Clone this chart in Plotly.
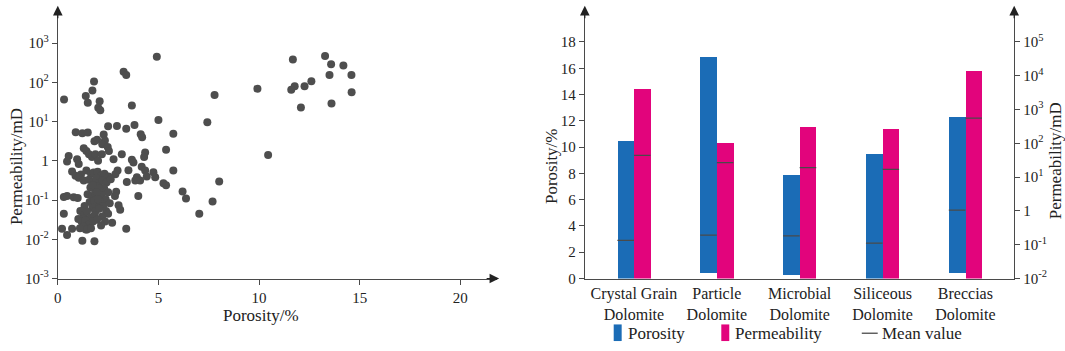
import plotly.graph_objects as go

# ---------------- Left panel: porosity vs permeability scatter ----------------
porosity_pct = [
    4.92, 3.27, 3.40, 1.80, 1.72, 1.39, 1.49, 2.08, 2.01, 2.11, 0.31, 3.68, 5.00, 9.92, 7.79, 7.43,
    11.68, 13.28, 13.58, 14.19, 13.50, 14.59, 12.60, 12.26, 11.77, 11.60, 12.08, 13.60, 14.60, 10.45,
    2.50, 2.94, 3.40, 3.81, 4.12, 4.19, 5.74, 0.89, 1.22, 1.49, 2.28, 2.34, 1.82, 1.95,
    2.21, 2.48, 2.54, 1.29, 1.42, 1.55, 5.38, 4.34, 4.29, 3.18, 3.68, 3.76, 2.77, 0.54, 0.46,
    0.96, 1.04, 1.70, 1.87, 2.00, 2.19,
    0.71, 3.51, 2.97, 2.86, 4.17, 4.34, 3.93, 4.09, 3.85, 4.42, 4.75, 4.84, 5.74, 3.43, 5.25, 5.38,
    1.15, 1.42, 1.65, 0.88, 1.04, 1.29, 8.02,
    2.90, 2.84, 4.00, 6.20, 6.37, 7.03, 7.69, 0.30, 0.46, 0.79, 0.99, 3.02, 3.10, 0.30,
    0.21, 0.71, 0.46, 1.22, 1.82, 1.95, 1.39, 2.70, 3.40,
    1.78, 1.98, 2.15, 2.32, 2.52,
    1.55, 1.72, 1.90, 2.05, 2.22, 2.42, 2.63,
    1.62, 1.82, 1.97, 2.12, 2.30, 2.50, 1.75, 2.05,
    1.48, 1.70, 1.88, 2.02, 2.18, 2.38, 1.95,
    1.58, 1.80, 1.95, 2.10, 2.25, 2.58, 2.00,
    1.33, 1.72, 1.88, 2.05, 2.40,
    1.12, 1.27, 1.45, 1.62, 1.83, 2.20, 2.50,
    1.02, 1.18, 1.38, 1.55, 1.75, 1.95, 2.35,
    1.28, 1.45, 1.10, 2.15, 1.65,
]
log10_perm_md = [
    2.65, 2.27, 2.19, 2.02, 1.79, 1.65, 1.48, 1.52, 1.35, 1.29, 1.56, 1.41, 1.04, 1.84, 1.68, 0.98,
    2.58, 2.67, 2.46, 2.43, 2.19, 2.19, 2.03, 1.90, 1.90, 1.81, 1.36, 1.46, 1.75, 0.15,
    0.88, 0.89, 0.82, 0.91, 0.68, 0.60, 0.69, 0.73, 0.70, 0.72, 0.67, 0.52, 0.50, 0.54,
    0.42, 0.35, 0.25, 0.32, 0.25, 0.17, 0.28, 0.21, 0.10, 0.17, 0.03, -0.04, 0.04, 0.12, -0.02,
    0.04, -0.08, 0.10, 0.17, 0.00, 0.17,
    -0.27, -0.24, -0.25, -0.34, -0.15, -0.25, -0.42, -0.50, -0.50, -0.40, -0.29, -0.42, -0.25, -0.54, -0.57, -0.62,
    -0.35, -0.25, -0.33, -0.38, -0.43, -0.50, -0.53,
    -0.79, -0.90, -0.90, -0.78, -0.96, -1.35, -1.04, -0.92, -0.90, -0.93, -0.95, -1.13, -1.25, -1.35,
    -1.73, -1.73, -1.89, -2.04, -2.05, -3.03, -1.75, -1.58, -1.73,
    -0.30, -0.28, -0.38, -0.33, -0.40,
    -0.48, -0.55, -0.45, -0.58, -0.50, -0.55, -0.47,
    -0.68, -0.72, -0.66, -0.78, -0.70, -0.80, -0.62, -0.70,
    -0.85, -0.90, -0.84, -0.95, -0.88, -0.98, -0.80,
    -1.05, -1.02, -1.10, -1.04, -1.15, -1.08, -0.98,
    -1.15, -1.20, -1.28, -1.22, -1.28,
    -1.28, -1.40, -1.30, -1.45, -1.38, -1.42, -1.35,
    -1.48, -1.55, -1.52, -1.62, -1.55, -1.50, -1.55,
    -1.68, -1.75, -1.72, -1.65, -1.72,
]
permeability_md = [10 ** v for v in log10_perm_md]

scatter_xticks = [0, 5, 10, 15, 20]
scatter_yticks = [1e-3, 1e-2, 1e-1, 1, 1e1, 1e2, 1e3]
scatter_ytext = ["10<sup>-3</sup>", "10<sup>-2</sup>", "10<sup>-1</sup>", "1",
                 "10<sup>1</sup>", "10<sup>2</sup>", "10<sup>3</sup>"]

# ---------------- Right panel: ranges per lithology ----------------
categories = ["Crystal Grain<br>Dolomite", "Particle<br>Dolomite", "Microbial<br>Dolomite",
              "Siliceous<br>Dolomite", "Breccias<br>Dolomite"]
porosity_min = [0.0, 0.45, 0.27, 0.0, 0.45]
porosity_max = [10.5, 16.9, 7.9, 9.5, 12.3]
porosity_mean = [2.9, 3.3, 3.25, 2.7, 5.2]
perm_min = [0.01, 0.01, 0.01, 0.01, 0.01]
perm_max = [4200, 105, 300, 270, 14000]
perm_mean = [44, 27, 19, 17, 560]

por_ticks = [0, 2, 4, 6, 8, 10, 12, 14, 16, 18]
perm_ticks = [1e-2, 1e-1, 1, 1e1, 1e2, 1e3, 1e4, 1e5]
perm_ticktext = ["10<sup>-2</sup>", "10<sup>-1</sup>", "1", "10<sup>1</sup>", "10<sup>2</sup>",
                 "10<sup>3</sup>", "10<sup>4</sup>", "10<sup>5</sup>"]

legend_labels = ["Porosity", "Permeability", "Mean value"]

# ---------------- Styling ----------------
W, H = 1065, 351
FONT = "Liberation Serif, Times New Roman, serif"
AX = "#4a4a4a"
TXT = "#222222"
BLUE = "#1b6cb6"
MAGENTA = "#e2047c"
MEAN = "#4a4a4a"
BAR_W = 0.2

def px_x(p):
    return p / W

def px_y(p):
    return 1 - p / H

dom_y = [px_y(285), px_y(8)]
dom_x1 = [px_x(54), px_x(495)]
dom_x2 = [px_x(583), px_x(1014)]

fig = go.Figure()

fig.add_trace(go.Scatter(
    x=porosity_pct, y=permeability_md, mode="markers",
    marker=dict(size=8, color="#4e4e4e", line=dict(width=0)),
    xaxis="x", yaxis="y", showlegend=False, cliponaxis=False, hoverinfo="skip"))

idx = list(range(len(categories)))
fig.add_trace(go.Bar(
    x=idx, y=[b - a for a, b in zip(porosity_min, porosity_max)], base=porosity_min,
    width=BAR_W, offset=-BAR_W, marker=dict(color=BLUE, line=dict(width=0)),
    name=legend_labels[0], xaxis="x2", yaxis="y2", showlegend=False))
fig.add_trace(go.Bar(
    x=idx, y=[b - a for a, b in zip(perm_min, perm_max)], base=perm_min,
    width=BAR_W, offset=0, marker=dict(color=MAGENTA, line=dict(width=0)),
    name=legend_labels[1], xaxis="x2", yaxis="y3", showlegend=False))

mx, my = [], []
for i, m in zip(idx, porosity_mean):
    mx += [i - BAR_W, i, None]
    my += [m, m, None]
fig.add_trace(go.Scatter(x=mx, y=my, mode="lines", line=dict(color=MEAN, width=1.3),
                         name=legend_labels[2], xaxis="x2", yaxis="y2", showlegend=False))
kx, ky = [], []
for i, m in zip(idx, perm_mean):
    kx += [i, i + BAR_W, None]
    ky += [m, m, None]
fig.add_trace(go.Scatter(x=kx, y=ky, mode="lines", line=dict(color=MEAN, width=1.3),
                         showlegend=False, xaxis="x2", yaxis="y3"))

axis_common = dict(showline=True, linecolor=AX, linewidth=1, showgrid=False, zeroline=False,
                   tickfont=dict(family=FONT, size=15, color=TXT), ticks="outside",
                   ticklen=5, tickcolor=AX, tickwidth=1)

fig.update_layout(
    width=W, autosize=True,
    margin=dict(l=0, r=0, t=0, b=0),
    paper_bgcolor="white", plot_bgcolor="white",
    font=dict(family=FONT, color=TXT),
    xaxis=dict(domain=dom_x1, range=[0, 21.83], tickvals=scatter_xticks, anchor="y", **axis_common),
    yaxis=dict(domain=dom_y, type="log", range=[-3, 3.9], tickvals=scatter_yticks,
               ticktext=scatter_ytext, anchor="x", **axis_common),
    xaxis2=dict(domain=dom_x2, range=[-0.593, 4.589], tickvals=idx, ticktext=categories,
                anchor="y2", showline=True, linecolor=AX, linewidth=1, showgrid=False,
                zeroline=False, ticks="", ticklen=2, tickfont=dict(family=FONT, size=16, color=TXT)),
    yaxis2=dict(domain=dom_y, range=[0, 20.6], tickvals=por_ticks, anchor="x2", **axis_common),
    yaxis3=dict(domain=dom_y, type="log", range=[-2, 6.01], tickvals=perm_ticks,
                ticktext=perm_ticktext, overlaying="y2", side="right", anchor="x2", **axis_common),
    bargap=0, showlegend=False,
)

ann = []
def text(t, x, y, angle=0, anchor="center", size=17):
    ann.append(dict(text=t, x=px_x(x), y=px_y(y), xref="paper", yref="paper",
                    showarrow=False, textangle=angle, xanchor=anchor, yanchor="middle",
                    font=dict(family=FONT, size=size, color=TXT)))

text("Permeability/mD", 12, 170, -90)
text("Porosity/%", 258, 323)
text("Porosity/%", 549, 170, -90)
text("Permeability/mD", 1055, 165, -90)

# custom legend (symbols + labels)
shapes = [
    dict(type="rect", xref="paper", yref="paper", x0=px_x(612), x1=px_x(620),
         y0=px_y(349), y1=px_y(332), fillcolor=BLUE, line=dict(width=0)),
    dict(type="rect", xref="paper", yref="paper", x0=px_x(720), x1=px_x(728),
         y0=px_y(349), y1=px_y(332), fillcolor=MAGENTA, line=dict(width=0)),
    dict(type="line", xref="paper", yref="paper", x0=px_x(861), x1=px_x(877),
         y0=px_y(341), y1=px_y(341), line=dict(color=MEAN, width=1.3)),
]
text(legend_labels[0], 624, 341, anchor="left")
text(legend_labels[1], 732, 341, anchor="left")
text(legend_labels[2], 879, 341, anchor="left")

def arrow(x, y, ax, ay):
    ann.append(dict(text="", x=px_x(x), y=px_y(y), xref="paper", yref="paper",
                    ax=ax, ay=ay, axref="pixel", ayref="pixel", showarrow=True,
                    arrowhead=2, arrowsize=1.6, arrowwidth=1.2, arrowcolor="#222"))

arrow(54, 6, 0, 14)
arrow(497, 285, -14, 0)
arrow(583, 6, 0, 14)
arrow(1014, 6, 0, 14)

fig.update_layout(annotations=ann, shapes=shapes)

post = (
    "document.documentElement.style.margin='0';"
    "document.body.style.margin='0';document.body.style.padding='0';document.body.style.overflow='hidden';"
)
fig.write_html("out.html", include_plotlyjs=True, config={"displayModeBar": False},
               default_width="1065px", default_height="100vh", post_script=post)
